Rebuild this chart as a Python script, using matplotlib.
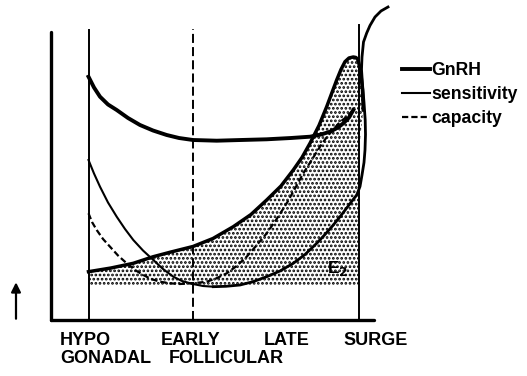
import matplotlib.pyplot as plt

plt.rcParams['font.family'] = ['Liberation Sans', 'DejaVu Sans']
plt.rcParams['lines.scale_dashes'] = False
plt.rcParams['hatch.linewidth'] = 1.3

# schematic curves (x: time along cycle, y: level, arbitrary units)
gnrh_x = [37.5, 43, 49, 57, 65.7, 77, 89, 102, 115.7, 128, 142, 165.7, 190, 215.7, 240, 259, 270, 279, 287, 292.3, 298, 302.3]
gnrh_y = [242.8, 232, 222.8, 215, 209.5, 201.5, 194.5, 189, 184.5, 181.5, 179.5, 178.8, 179.5, 180.2, 181.5, 182.8, 185, 187.8, 192, 196.2, 202, 209.5]

rise_x = [37.5, 60, 82.3, 102.3, 120, 142, 162, 182.3, 200, 215.7, 230, 242.3, 251, 259, 268, 275.7, 281, 285.7, 290, 294, 298, 302.3, 305, 307, 309.5, 311.5, 312.3]
rise_y = [47.8, 51.5, 56.2, 62.8, 67.5, 73, 81, 92.8, 105, 119.5, 133.5, 149.5, 162, 176.2, 194, 212.8, 227, 239.5, 250, 257.8, 261.5, 262.5, 262, 259.5, 249.5, 229.5, 209.5]

# sensitivity: thin falling limb, heavier rising limb, then off the top
sens_fall_x = [37.5, 43, 49, 57, 65.7, 74, 82.3, 92, 102.3, 112, 122.3, 131, 142, 152, 162.3]
sens_fall_y = [159.5, 146, 132.8, 117, 102.8, 90.5, 79.5, 69, 59.5, 50.5, 42.8, 38.5, 35.5, 33.5, 32.8]
sens_rise_x = [162.3, 175, 189, 202, 215.7, 229, 242.3, 254, 265.7, 274, 282.3, 290, 295.7, 301, 305.7, 309, 311, 313, 314, 314.5, 314.2, 313, 311.5, 310.5, 311, 312.5, 315.7, 319, 324, 330, 337]
sens_rise_y = [32.8, 33.2, 34.5, 37.8, 42.8, 48.5, 56.2, 65, 76.2, 85, 94.5, 104, 111.5, 118.5, 124.5, 133, 144.5, 157, 169.5, 185, 199.5, 217, 235, 250, 262.5, 277.5, 286.5, 294, 302.5, 308.5, 312.5]

cap_x = [37.5, 41, 45.7, 52, 59, 67, 75.7, 84, 92.3, 100, 109, 119, 129, 140, 147, 155.7, 165, 175.7, 185, 195.7, 205, 215.7, 225, 235.7, 244, 252.3, 261, 269, 274, 279, 284, 289, 295.7, 302.3]
cap_y = [106.2, 97.5, 89.5, 80.5, 72.8, 64, 56.2, 49.5, 44.5, 40.5, 37.8, 36.2, 35.5, 36.2, 36.8, 37.8, 41, 46.2, 53, 62.8, 73.5, 86.2, 99.5, 116.2, 131, 146.2, 160, 172.8, 180, 186.2, 192, 197.5, 202.8, 209.5]

# phase markers
phase_x = [37.5, 142, 308]
phase_top = [289.5, 291, 294.5]
shade_base = 34.5
label_rows = [['HYPO', 'EARLY', 'LATE', 'SURGE'], ['GONADAL', 'FOLLICULAR']]
label_left = [[60, 161, 264, 343.3], [60, 168.3]]
label_base = [345, 363.3]

fig = plt.figure(figsize=(5.27, 3.76), dpi=100)
ax = fig.add_axes([51 / 527, (376 - 319.5) / 376, (374 - 51) / 527, (319.5 - 31.5) / 376])
ax.set_xlim(0, 323)
ax.set_ylim(0, 288)
ax.set_xticks([])
ax.set_yticks([])
for s in ['top', 'right']:
    ax.spines[s].set_visible(False)
for s in ['left', 'bottom']:
    ax.spines[s].set_linewidth(2.4)
    ax.spines[s].set_capstyle('round')

# dotted (screened) area under the rising curve
fx = [phase_x[0]] + rise_x + [phase_x[2], phase_x[2], phase_x[0]]
fy = [shade_base] + rise_y + [170, shade_base, shade_base]
ax.fill(fx, fy, facecolor='white', edgecolor='black', hatch='....', linewidth=0, zorder=1)

# phase lines
ax.plot([phase_x[0]] * 2, [0, phase_top[0]], color='black', lw=1.4, clip_on=False)
ax.plot([phase_x[1]] * 2, [0, phase_top[1]], color='black', lw=1.4, dashes=(6.5, 3), clip_on=False)
ax.plot([phase_x[2]] * 2, [0, phase_top[2]], color='black', lw=1.4, clip_on=False)

ax.plot(gnrh_x, gnrh_y, color='black', lw=2.8, label='GnRH', zorder=3)
ax.plot(rise_x, rise_y, color='black', lw=2.5, zorder=3)
ax.plot(sens_fall_x, sens_fall_y, color='black', lw=1.5, label='sensitivity', zorder=3)
ax.plot(sens_rise_x, sens_rise_y, color='black', lw=2.0, zorder=3, clip_on=False)
ax.plot(cap_x, cap_y, color='black', lw=1.6, dashes=(4.5, 2.2), label='capacity', zorder=3)

ax.text(287, 51.5, r'E$_\mathbf{2}$', fontsize=12.5, fontweight='bold', ha='center', va='center', zorder=4)

# arrow to the left of the y axis
ax.annotate('', xy=(-35, 40), xytext=(-35, -2), annotation_clip=False,
            arrowprops=dict(arrowstyle='-|>', lw=1.6, color='black', mutation_scale=14))

leg = ax.legend(loc='upper left', bbox_to_anchor=(401.7 / 527, 1 - 62 / 376), bbox_transform=fig.transFigure,
                frameon=False, borderpad=0, borderaxespad=0, handlelength=1.6, handletextpad=0.1,
                labelspacing=0.4, prop={'size': 12.7, 'weight': 'bold'})

for row, lefts, base in zip(label_rows, label_left, label_base):
    for txt, lx in zip(row, lefts):
        fig.text(lx / 527, 1 - base / 376, txt, fontsize=13, fontweight='bold', ha='left', va='baseline')

fig.savefig('out.png', dpi=100)
